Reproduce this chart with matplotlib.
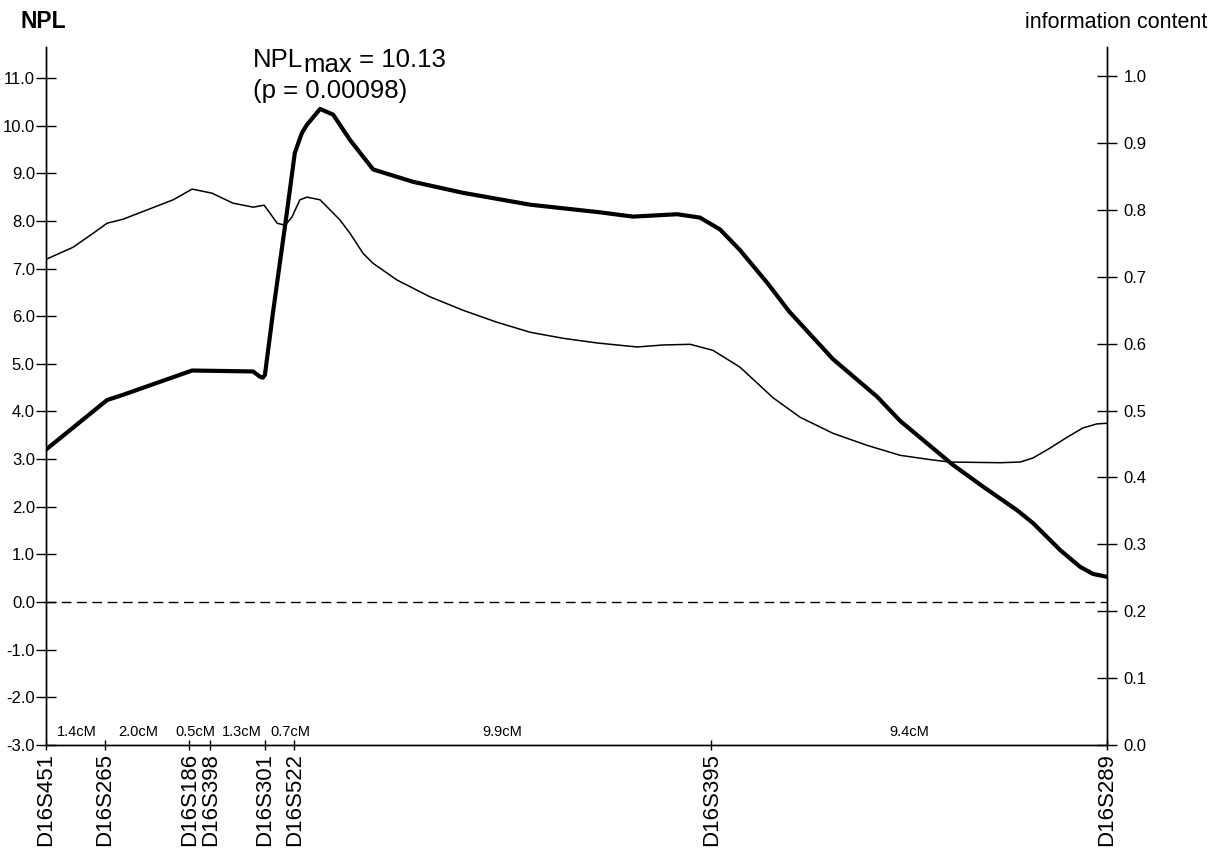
import numpy as np
import matplotlib
matplotlib.use("Agg")
import matplotlib.pyplot as plt
from matplotlib.transforms import offset_copy

plt.rcParams['font.family'] = ['Liberation Sans', 'DejaVu Sans']
plt.rcParams['axes.unicode_minus'] = False

# markers and inter-marker distances (cM)
markers = ['D16S451', 'D16S265', 'D16S186', 'D16S398', 'D16S301', 'D16S522', 'D16S395', 'D16S289']
gaps = [1.4, 2.0, 0.5, 1.3, 0.7, 9.9, 9.4]
gap_labels = ['1.4cM', '2.0cM', '0.5cM', '1.3cM', '0.7cM', '9.9cM', '9.4cM']
gap_label_pos = [0.74, 2.19, 3.55, 4.66, 5.80, 10.83, 20.5]
marker_pos = np.concatenate([[0], np.cumsum(gaps)])

# NPL score (thick line, left axis)
npl_x = [0.0, 1.45, 1.83, 3.47, 4.92, 5.08, 5.15, 5.20, 5.39, 5.72, 5.91, 6.08, 6.20, 6.51,
         6.82, 7.22, 7.77, 8.72, 9.90, 11.50, 13.16, 13.94, 14.99, 15.53, 16.01, 16.48,
         17.13, 17.65, 18.69, 19.74, 20.29, 21.54, 22.26, 23.06, 23.44, 23.85, 24.09, 24.56,
         24.87, 25.2]
npl_y = [3.2, 4.24, 4.35, 4.86, 4.84, 4.73, 4.71, 4.77, 6.07, 8.17, 9.43, 9.85, 10.02, 10.35,
         10.23, 9.70, 9.08, 8.82, 8.59, 8.34, 8.18, 8.09, 8.14, 8.07, 7.82, 7.39,
         6.70, 6.10, 5.10, 4.31, 3.80, 2.88, 2.42, 1.93, 1.66, 1.30, 1.09, 0.74,
         0.59, 0.53]

# information content (thin line, right axis)
info_x = [0.0, 0.64, 1.12, 1.45, 1.83, 3.02, 3.47, 3.94, 4.44, 4.92, 5.18, 5.32, 5.49, 5.68,
          5.84, 6.03, 6.20, 6.51, 6.98, 7.22, 7.53, 7.77, 8.34, 9.12, 9.90, 10.71, 11.50,
          12.28, 13.09, 14.04, 14.66, 15.30, 15.84, 16.48, 17.27, 17.91, 18.69, 19.50,
          20.29, 21.07, 21.47, 22.66, 23.14, 23.44, 23.85, 24.25, 24.63, 24.96, 25.2]
info_y = [0.726, 0.744, 0.765, 0.780, 0.786, 0.815, 0.831, 0.825, 0.810, 0.804, 0.807, 0.795,
          0.780, 0.777, 0.789, 0.815, 0.819, 0.815, 0.785, 0.765, 0.735, 0.720, 0.695, 0.670,
          0.650, 0.632, 0.617, 0.608, 0.601, 0.595, 0.598, 0.599, 0.590, 0.565, 0.519, 0.490,
          0.466, 0.448, 0.433, 0.426, 0.423, 0.422, 0.423, 0.429, 0.444, 0.460, 0.474, 0.480,
          0.481]

fig = plt.figure(figsize=(12.14, 8.52), dpi=100)
ax = fig.add_axes([46 / 1214, 107 / 852, 1061 / 1214, 698 / 852])
ax2 = ax.twinx()

ax.plot(npl_x, npl_y, color='black', linewidth=3.0, solid_capstyle='round', solid_joinstyle='round')
ax2.plot(info_x, info_y, color='black', linewidth=1.1, solid_joinstyle='round')
ax.axhline(0, color='black', linewidth=1.0, linestyle=(0, (7, 4)))

ax.set_xlim(0, marker_pos[-1])
ax.set_ylim(-3, 11.65)
ax2.set_ylim(0, 14.65 / 14.04)

ax.set_yticks(np.arange(-3, 12, 1.0))
ax.set_yticklabels(['%.1f' % v for v in np.arange(-3, 12, 1.0)], fontsize=12)
ax2.set_yticks(np.arange(0, 1.05, 0.1))
ax2.set_yticklabels(['%.1f' % v for v in np.arange(0, 1.05, 0.1)], fontsize=12)
ax.set_xticks(marker_pos)
ax.set_xticklabels(markers, rotation=90, fontsize=16)

ax.tick_params(axis='y', direction='inout', length=14, width=1, pad=1)
ax2.tick_params(axis='y', direction='inout', length=14, width=1, pad=5)
ax.tick_params(axis='x', direction='inout', length=7, width=1, pad=2)

for a in (ax, ax2):
    a.spines['top'].set_visible(False)
    for s in a.spines.values():
        s.set_linewidth(1.0)

for lab, xp in zip(gap_labels, gap_label_pos):
    ax.text(xp, -2.72, lab, fontsize=10.5, ha='center', va='center')

fig.text(20 / 1214, 1 - 22 / 852, 'NPL', fontsize=16.5, fontweight='bold', va='center')
fig.text(1207 / 1214, 1 - 22 / 852, 'information content', fontsize=15.5, ha='right', va='center')

# NPL_max annotation with a full-size, lowered "max"
xa, ya = 4.92, 11.22
t1 = ax.text(xa, ya, 'NPL', fontsize=18.5, va='baseline')
fig.canvas.draw()
w1 = t1.get_window_extent().width
t2 = ax.text(xa, ya, 'max', fontsize=18.5, va='baseline',
             transform=offset_copy(ax.transData, fig, x=w1, y=-5, units='dots'))
fig.canvas.draw()
w2 = t2.get_window_extent().width
ax.text(xa, ya, ' = 10.13', fontsize=18.5, va='baseline',
        transform=offset_copy(ax.transData, fig, x=w1 + w2, y=0, units='dots'))
ax.text(xa, 10.59, '(p = 0.00098)', fontsize=18.5, va='baseline')

fig.savefig('out.png', dpi=100)
